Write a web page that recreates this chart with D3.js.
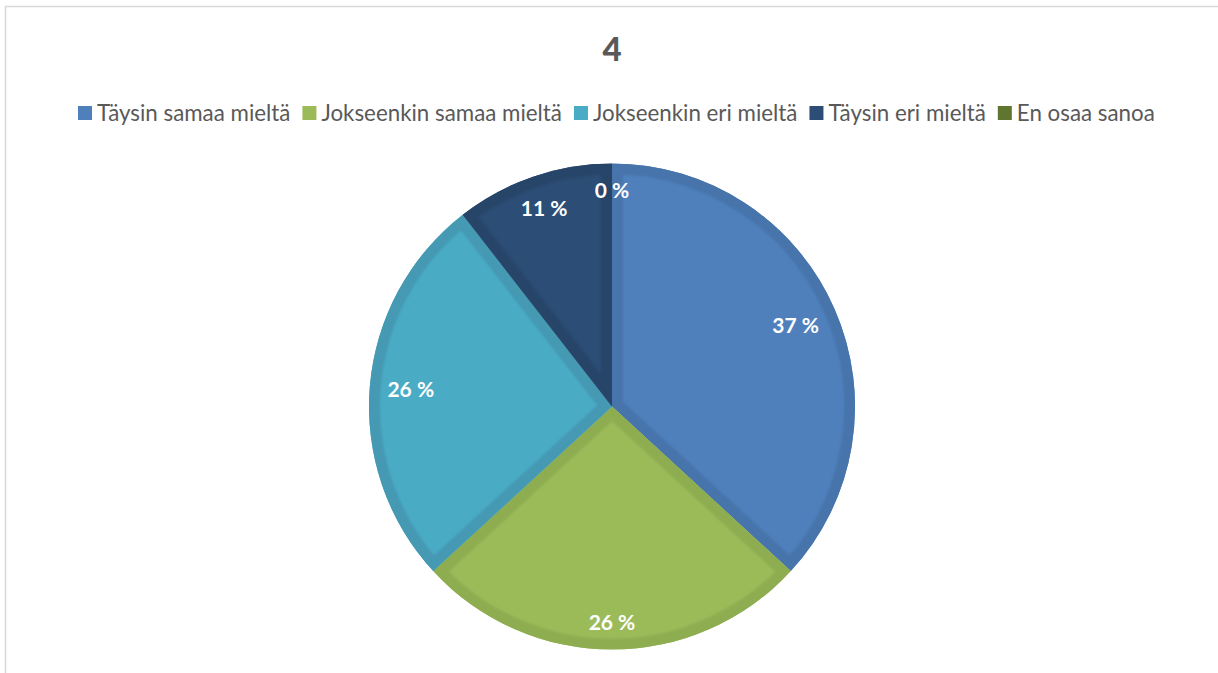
<!DOCTYPE html>
<html><head><meta charset="utf-8">
<script src="https://cdn.jsdelivr.net/npm/d3@7"></script>
<style>html,body{margin:0;padding:0;background:#fff;}svg{display:block;}</style>
</head><body>
<svg id="chart" width="1218" height="673"></svg>
<script>
const title = "4";
const categories = ["Täysin samaa mieltä","Jokseenkin samaa mieltä","Jokseenkin eri mieltä","Täysin eri mieltä","En osaa sanoa"];
const counts = [7, 5, 5, 2, 0];
const colors = ["#4f80bc","#9bbb59","#4aabc5","#2c4d75","#5f7530"];
const bandColors = ["#4674ab","#8ead51","#4499b3","#284569","#556a2b"];

const W = 1218, H = 673;
const svg = d3.select("#chart");
const font = "Lato, 'Open Sans', sans-serif";

// chart border
svg.append("rect").attr("x",5.5).attr("y",6.5).attr("width",W+20).attr("height",H+20)
  .attr("fill","#fff").attr("stroke","#d9d9d9").attr("stroke-width",1.5);

// title
svg.append("text").attr("x",612).attr("y",61).attr("text-anchor","middle")
  .attr("font-family",font).attr("font-weight","900").attr("font-size",33)
  .attr("fill","#595959").text(title);

// legend
const legendLeft = 78, legendRight = 1155, legendY = 113;
const marker = 14, mGap = 5, iGap = 12;
const lg = svg.append("g");
const items = lg.selectAll("g").data(categories).join("g");
items.append("rect").attr("width",marker).attr("height",marker).attr("fill",(d,i)=>colors[i]);
const lt = items.append("text").attr("font-family",font).attr("font-size",20).attr("fill","#595959").text(d=>d);
let textW = lt.nodes().map(n=>n.getComputedTextLength());
const avail = legendRight - legendLeft - categories.length*(marker+mGap) - (categories.length-1)*iGap;
const fs = 20 * avail / d3.sum(textW);
lt.attr("font-size",fs);
textW = lt.nodes().map(n=>n.getComputedTextLength());
let xpos = legendLeft;
items.each(function(d,i){
  const g = d3.select(this);
  g.attr("transform",`translate(${xpos},${legendY})`);
  g.select("rect").attr("y",-marker/2);
  g.select("text").attr("x",marker+mGap).attr("dy","0.35em");
  xpos += marker + mGap + textW[i] + iGap;
});

// pie
const cx = 612, cy = 406.5, R = 243;
const total = d3.sum(counts);
const pie = d3.pie().sort(null).value(d=>d)(counts);
const arc = d3.arc().innerRadius(0).outerRadius(R);
const defs = svg.append("defs");
defs.append("filter").attr("id","soft").attr("x","-10%").attr("y","-10%").attr("width","120%").attr("height","120%")
  .append("feGaussianBlur").attr("stdDeviation",1.2);
const pg = svg.append("g").attr("transform",`translate(${cx},${cy})`);
pie.forEach((p,i)=>{
  if (p.endAngle - p.startAngle <= 0) return;
  const d = arc(p);
  defs.append("clipPath").attr("id","clip"+i).append("path").attr("d",d);
  pg.append("path").attr("d",d).attr("fill",colors[i]);
  const gb = pg.append("g").attr("clip-path",`url(#clip${i})`);
  gb.append("path").attr("d",d).attr("fill","none").attr("stroke",bandColors[i])
    .attr("stroke-width",22).attr("stroke-linejoin","miter").attr("filter","url(#soft)");
});

// labels (inside end)
pie.forEach((p,i)=>{
  const pct = Math.round(p.value/total*100) + " %";
  const t = pg.append("text").attr("font-family",font).attr("font-weight","bold").attr("font-size",21)
    .attr("fill","#fff").attr("text-anchor","middle").attr("dy","0.36em").text(pct);
  const w = t.node().getComputedTextLength(), h = 20;
  const a = (p.startAngle + p.endAngle)/2;
  const s = Math.sin(a), c = -Math.cos(a);
  const r = R - 17 - (Math.abs(s)*w/2 + Math.abs(c)*h/2);
  t.attr("x", r*s).attr("y", r*c);
});
</script>
</body></html>
